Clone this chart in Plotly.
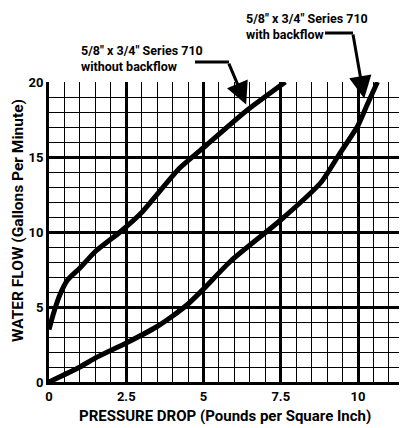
import plotly.graph_objects as go

# Data
without_x = [0.0, 0.15, 0.35, 0.6, 1.0, 1.5, 2.3, 3.0, 4.2, 5.1, 6.4, 7.65]
without_y = [3.5, 4.6, 5.8, 6.8, 7.6, 8.7, 10.0, 11.3, 14.2, 15.8, 18.1, 20.0]

with_x = [0.0, 1.0, 1.5, 2.5, 3.5, 4.0, 4.5, 5.0, 5.9, 7.5, 8.8, 9.4, 10.0, 10.3, 10.63]
with_y = [0.0, 1.0, 1.6, 2.6, 3.7, 4.4, 5.2, 6.2, 8.1, 10.8, 13.3, 15.2, 17.1, 18.5, 20.0]

x_ticks = [0, 2.5, 5, 7.5, 10]
x_tick_labels = ["0", "2.5", "5", "7.5", "10"]
y_ticks = [0, 5, 10, 15, 20]
y_tick_labels = ["0", "5", "10", "15", "20"]

label_without = "5/8\" x 3/4\" Series 710<br>without backflow"
label_with = "5/8\" x 3/4\" Series 710<br>with backflow"

FONT = "Roboto, Liberation Sans, sans-serif"

fig = go.Figure()
for xs, ys in [(without_x, without_y), (with_x, with_y)]:
    fig.add_trace(go.Scatter(x=xs, y=ys, mode="lines",
                             line=dict(color="black", width=5, shape="spline", smoothing=0.6),
                             showlegend=False, hoverinfo="skip", cliponaxis=True))

# page offset (body margin of the html page)
OFF = 8
W, H = 407 - OFF, 428 - OFF
# target positions in window pixels
L_win, T_win, B_win = 49, 82, 382
L = L_win - OFF
T = T_win - OFF
B = H - (B_win - OFF)
pw = W - L
ph = H - T - B
xmax = pw / 30.9

def px(xp):
    return (xp - L_win) / pw

def py(yp):
    return (B_win - yp) / ph

fig.update_layout(
    width=W, height=H,
    margin=dict(l=L, r=0, t=T, b=B),
    plot_bgcolor="white", paper_bgcolor="white",
    font=dict(family=FONT, color="black", size=13),
    xaxis=dict(range=[0, xmax], tickvals=x_ticks, ticktext=[f"<b>{t}</b>" for t in x_tick_labels],
               showgrid=True, gridcolor="black", gridwidth=3, zeroline=False, automargin=False,
               showline=True, linecolor="black", linewidth=3,
               minor=dict(dtick=0.5, tick0=0, showgrid=True, gridcolor="black", gridwidth=1.3),
               ticks="", ticklabelstandoff=0, tickfont=dict(size=13, family=FONT)),
    yaxis=dict(range=[0, 20], tickvals=y_ticks, ticktext=[f"<b>{t}</b>" for t in y_tick_labels],
               showgrid=True, gridcolor="black", gridwidth=3, zeroline=False, automargin=False,
               showline=True, linecolor="black", linewidth=3, mirror=True,
               minor=dict(dtick=1, tick0=0, showgrid=True, gridcolor="black", gridwidth=1.3),
               ticks="", tickfont=dict(size=13, family=FONT)),
)

# Axis titles
fig.add_annotation(xref="paper", yref="paper", x=px(225), y=py(416), xanchor="center", yanchor="middle",
                   text="<b>PRESSURE DROP (Pounds per Square Inch)</b>", showarrow=False,
                   font=dict(size=15, family=FONT))
fig.add_annotation(xref="paper", yref="paper", x=px(18), y=py(221), xanchor="center", yanchor="middle",
                   text="<b>WATER FLOW (Gallons Per Minute)</b>", showarrow=False, textangle=-90,
                   font=dict(size=15.5, family=FONT))

# Annotation texts
fig.add_annotation(xref="paper", yref="paper", x=px(79), y=py(41), xanchor="left", yanchor="top",
                   text=f"<b>{label_without}</b>", showarrow=False, align="left",
                   font=dict(size=12.5, family=FONT))
fig.add_annotation(xref="paper", yref="paper", x=px(244), y=py(9), xanchor="left", yanchor="top",
                   text=f"<b>{label_with}</b>", showarrow=False, align="left",
                   font=dict(size=12.5, family=FONT))

# Leader lines (horizontal parts)
fig.add_shape(type="line", xref="paper", yref="paper", x0=px(195), y0=py(62), x1=px(229), y1=py(62),
              line=dict(color="black", width=3))
fig.add_shape(type="line", xref="paper", yref="paper", x0=px(325), y0=py(33), x1=px(353), y1=py(33),
              line=dict(color="black", width=3))

# Arrows (diagonal parts)
fig.add_annotation(x=6.38, y=18.5, ax=5.8, ay=21.33, axref="x", ayref="y", xref="x", yref="y",
                   text="", showarrow=True, arrowhead=2, arrowsize=1.5, arrowwidth=3, arrowcolor="black")
fig.add_annotation(x=10.2, y=18.9, ax=9.83, ay=23.27, axref="x", ayref="y", xref="x", yref="y",
                   text="", showarrow=True, arrowhead=2, arrowsize=1.5, arrowwidth=3, arrowcolor="black")

fig.write_html("out.html")
